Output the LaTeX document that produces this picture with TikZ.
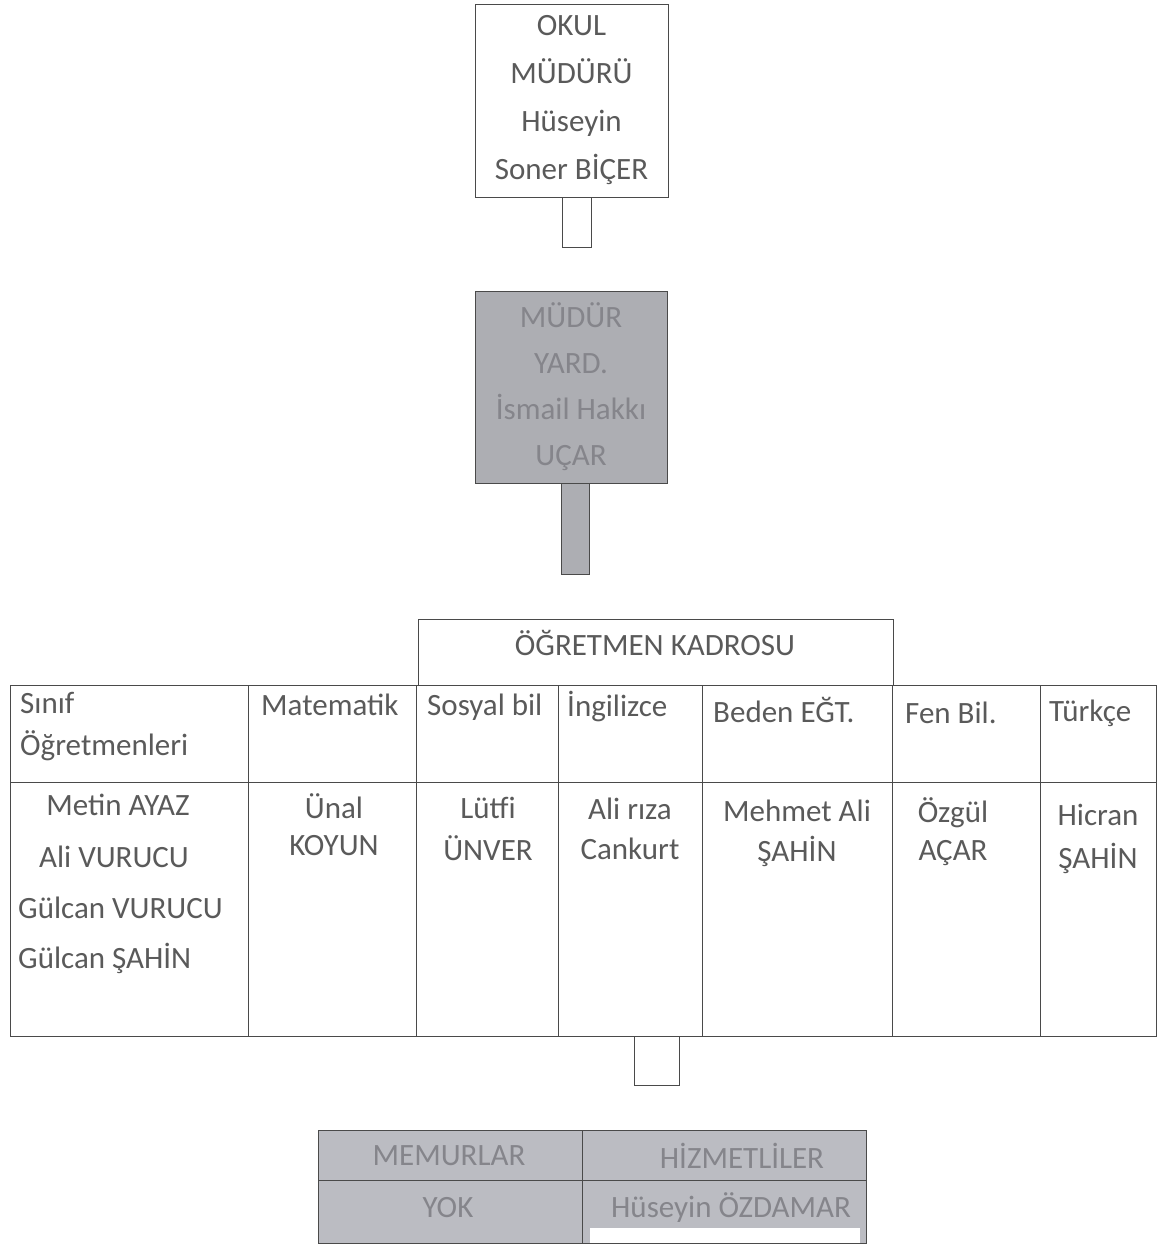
\documentclass[tikz,border=0pt]{standalone}
\usepackage{fontspec}
\setmainfont{Carlito}
\definecolor{ink}{HTML}{5A5A5A}
\definecolor{rule}{HTML}{4A4A4A}
\definecolor{shade}{HTML}{ADAEB3}
\definecolor{shadetxt}{HTML}{85858B}
\definecolor{shadeb}{HTML}{BBBCC2}
\tikzset{
  box/.style={draw=rule, line width=0.9pt, inner sep=0pt, align=center},
  greybox/.style={box, fill=shade, text=shadetxt},
  linkbox/.style={draw=rule, line width=0.9pt, inner sep=0pt, fill=white},
  greylink/.style={linkbox, fill=shade},
  txt/.style={inner sep=0pt, text=ink},
  gtxt/.style={inner sep=0pt, text=shadetxt},
  grid/.style={draw=rule, line width=0.9pt}
}
\begin{document}
\begin{tikzpicture}[x=1pt,y=-1pt,font=\fontsize{31}{48}\selectfont]
\useasboundingbox (0,0) rectangle (1158,1249);
% principal
\node[box, minimum width=193pt, minimum height=193pt, text=ink] (okul) at (571.5,100.5) {OKUL\\MÜDÜRÜ\\Hüseyin\\Soner BİÇER};
\node[linkbox, anchor=north, minimum width=29pt, minimum height=50pt] (c1) at ([xshift=5pt]okul.south) {};
% vice principal
\node[greybox, minimum width=192pt, minimum height=192pt, font=\fontsize{31}{46}\selectfont] (yard) at (571,387) {MÜDÜR\\YARD.\\İsmail Hakkı\\UÇAR};
\node[greylink, anchor=north, minimum width=28pt, minimum height=91pt] (c2) at ([xshift=4pt]yard.south) {};
% teacher table
\draw[grid] (418,619) rectangle (893,685);
\node[txt] (kadro) at (655,643) {ÖĞRETMEN KADROSU};
\draw[grid] (10,685) rectangle (1156,1036);
\draw[grid] (10,782) -- (1156,782);
\foreach \xx in {248,416,558,702,892,1040} \draw[grid] (\xx,685) -- (\xx,1036);
% header cells
\node[txt, anchor=west] (h1a) at (20,703) {Sınıf};
\node[txt, anchor=west] (h1b) at (20,746) {Öğretmenleri};
\node[txt, anchor=west] (h2) at (261,705) {Matematik};
\node[txt, anchor=west] (h3) at (427,707) {Sosyal bil};
\node[txt, anchor=west] (h4) at (567,707) {İngilizce};
\node[txt, anchor=west] (h5) at (713,710) {Beden EĞT.};
\node[txt, anchor=west] (h6) at (905,713) {Fen Bil.};
\node[txt, anchor=west] (h7) at (1049,713) {Türkçe};
% body cells
\node[txt] (b1a) at (118,805) {Metin AYAZ};
\node[txt] (b1b) at (114,857) {Ali VURUCU};
\node[txt, anchor=west] (b1c) at (18,908) {Gülcan VURUCU};
\node[txt, anchor=west] (b1d) at (18,958) {Gülcan ŞAHİN};
\node[txt] (b2a) at (334,806) {Ünal};
\node[txt] (b2b) at (334,846) {KOYUN};
\node[txt] (b3a) at (488,808) {Lütfi};
\node[txt] (b3b) at (488,848) {ÜNVER};
\node[txt] (b4a) at (630,809) {Ali rıza};
\node[txt] (b4b) at (630,849) {Cankurt};
\node[txt] (b5a) at (797,811) {Mehmet Ali};
\node[txt] (b5b) at (797,851) {ŞAHİN};
\node[txt] (b6a) at (953,813) {Özgül};
\node[txt] (b6b) at (953,853) {AÇAR};
\node[txt] (b7a) at (1098,815) {Hicran};
\node[txt] (b7b) at (1098,858) {ŞAHİN};
% link to staff
\node[linkbox, anchor=north, minimum width=45pt, minimum height=49pt] (c3) at (656.5,1036) {};
% staff table
\draw[grid, fill=shadeb] (318,1130) rectangle (866,1243);
\fill[white] (590,1228) rectangle (860,1243);
\draw[grid] (318,1180) -- (866,1180);
\draw[grid] (582,1130) -- (582,1243);
\node[gtxt] (mem) at (449,1156) {MEMURLAR};
\node[gtxt] (hiz) at (742,1156) {HİZMETLİLER};
\node[gtxt] (yok) at (448,1208) {YOK};
\node[gtxt] (oz) at (731,1208) {Hüseyin ÖZDAMAR};
\end{tikzpicture}
\end{document}
